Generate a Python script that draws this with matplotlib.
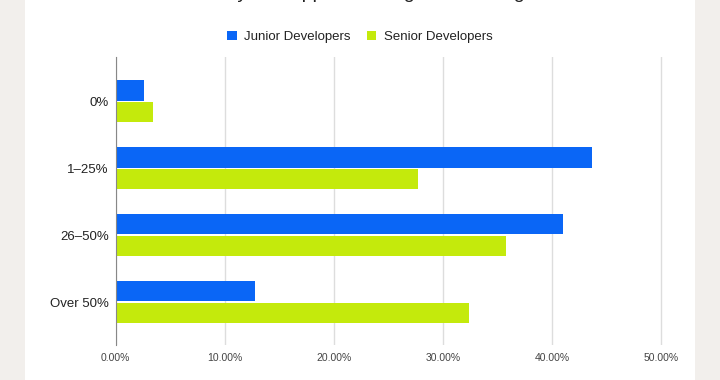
import numpy as np
import matplotlib
matplotlib.use("Agg")
from matplotlib import pyplot as plt
from matplotlib.patches import Rectangle
from matplotlib.ticker import FuncFormatter

plt.rcParams["font.family"] = ["Liberation Sans", "DejaVu Sans"]

categories = ["0%", "1\u201325%", "26\u201350%", "Over 50%"]
junior = [2.6, 43.6, 41.0, 12.8]
senior = [3.4, 27.7, 35.8, 32.4]
series_names = ["Junior Developers", "Senior Developers"]
title = "Share of your support coming from managers"

BLUE = "#0a66f6"
GREEN = "#c4ea0c"

fig = plt.figure(figsize=(7.2, 3.8), dpi=100)
fig.patch.set_facecolor("#f2efec")
# white card behind the chart
fig.add_artist(Rectangle((25 / 720, 0), 670 / 720, 1, transform=fig.transFigure,
                         facecolor="white", edgecolor="none", zorder=0))

ax = fig.add_axes([115.7 / 720, 1 - 345 / 380, 546.8 / 720, 288 / 380])
ax.set_facecolor("none")

y = np.arange(len(categories))
h = 0.3
ax.barh(y - 0.16, junior, height=h, color=BLUE, label=series_names[0], zorder=3)
ax.barh(y + 0.16, senior, height=h, color=GREEN, label=series_names[1], zorder=3)

ax.set_xlim(0, 50.1)
ax.set_ylim(3.64, -0.66)
ax.set_xticks(np.arange(0, 51, 10))
ax.xaxis.set_major_formatter(FuncFormatter(lambda v, p: f"{v:.2f}%"))
ax.set_yticks(y)
ax.set_yticklabels(categories)
ax.tick_params(axis="x", length=0, pad=6, labelsize=7.5, labelcolor="#444444")
ax.tick_params(axis="y", length=0, pad=5, labelsize=9.5, labelcolor="#222222")
ax.grid(axis="x", color="#dddddd", linewidth=1, zorder=0)
for s in ["top", "right", "bottom"]:
    ax.spines[s].set_visible(False)
ax.spines["left"].set_color("#888888")
ax.spines["left"].set_zorder(4)

fig.legend(loc="center", bbox_to_anchor=(360 / 720, 1 - 37 / 380), ncol=2,
           frameon=False, fontsize=9.5, handlelength=0.7, handleheight=0.7,
           columnspacing=1.2, handletextpad=0.6, labelcolor="#222222")

# title is cut off at the top in the source; only descenders show
fig.text(355 / 720, 1 + 2 / 380, title, ha="center", va="baseline",
         fontsize=14, color="#222222")

fig.savefig("out.png", dpi=100)
